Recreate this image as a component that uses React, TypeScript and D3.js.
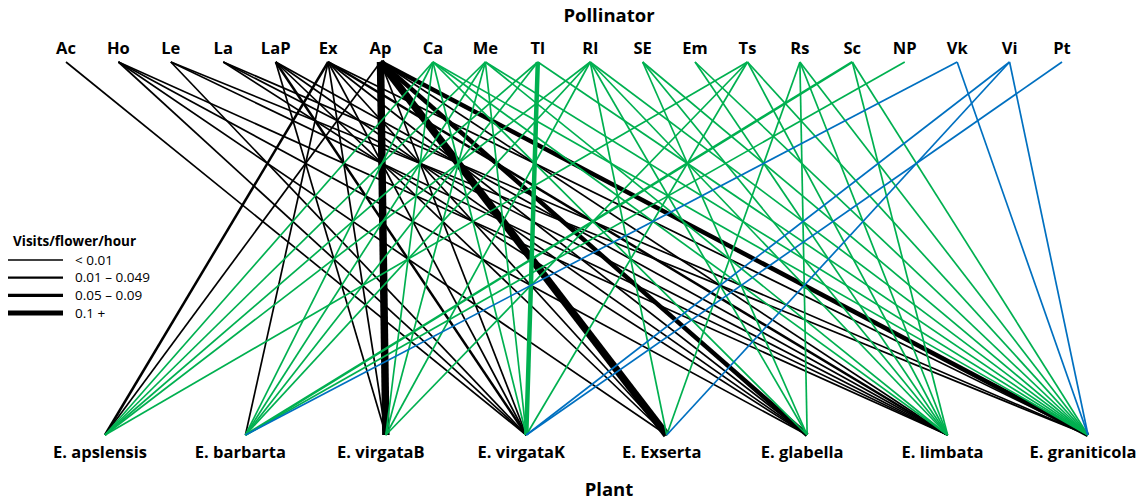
import React from "react";
import * as d3 from "d3";

const pollinators = ["Ac","Ho","Le","La","LaP","Ex","Ap","Ca","Me","Tl","Rl","SE","Em","Ts","Rs","Sc","NP","Vk","Vi","Pt"];
const pollinatorGroup = ["bee","bee","bee","bee","bee","bee","bee","fly","fly","fly","fly","fly","fly","fly","fly","fly","fly","other","other","other"];
const plants = ["E. apslensis","E. barbarta","E. virgataB","E. virgataK","E. Exserta","E. glabella","E. limbata","E. graniticola"];
const legendLabels = ["< 0.01","0.01 \u2013 0.049","0.05 \u2013 0.09","0.1 +"];

// [pollinator, plant, visit class (1..4)]
const links: [string, string, number][] = [
  ["Ac","E. virgataK",1],
  ["Ho","E. virgataK",1],["Ho","E. Exserta",1],["Ho","E. glabella",1],["Ho","E. limbata",1],
  ["Le","E. virgataK",1],["Le","E. limbata",1],["Le","E. graniticola",1],
  ["La","E. glabella",1],["La","E. limbata",1],["La","E. graniticola",1],
  ["LaP","E. virgataB",1],["LaP","E. virgataK",2],["LaP","E. Exserta",1],["LaP","E. glabella",1],["LaP","E. limbata",1],
  ["Ex","E. apslensis",2],["Ex","E. barbarta",1],["Ex","E. virgataB",1],["Ex","E. virgataK",1],["Ex","E. Exserta",1],["Ex","E. glabella",1],["Ex","E. limbata",2],["Ex","E. graniticola",1],
  ["Ap","E. apslensis",1],["Ap","E. virgataB",4],["Ap","E. virgataK",1],["Ap","E. Exserta",4],["Ap","E. glabella",3],["Ap","E. limbata",1],["Ap","E. graniticola",3],
  ["Ca","E. apslensis",1],["Ca","E. barbarta",1],["Ca","E. virgataB",1],["Ca","E. virgataK",1],["Ca","E. glabella",1],["Ca","E. limbata",1],["Ca","E. graniticola",1],
  ["Me","E. apslensis",1],["Me","E. barbarta",1],["Me","E. virgataB",1],["Me","E. virgataK",1],["Me","E. limbata",1],["Me","E. graniticola",1],
  ["Tl","E. apslensis",1],["Tl","E. barbarta",1],["Tl","E. virgataK",3],["Tl","E. graniticola",1],
  ["Rl","E. apslensis",1],["Rl","E. barbarta",1],["Rl","E. virgataB",1],["Rl","E. Exserta",1],["Rl","E. glabella",1],["Rl","E. limbata",1],["Rl","E. graniticola",1],
  ["SE","E. glabella",1],["SE","E. limbata",1],["SE","E. graniticola",1],
  ["Em","E. limbata",1],["Em","E. graniticola",1],
  ["Ts","E. apslensis",1],["Ts","E. virgataB",1],["Ts","E. virgataK",1],["Ts","E. limbata",1],["Ts","E. graniticola",1],
  ["Rs","E. Exserta",1],["Rs","E. glabella",1],["Rs","E. limbata",1],["Rs","E. graniticola",1],
  ["Sc","E. barbarta",2],["Sc","E. limbata",1],["Sc","E. graniticola",1],
  ["NP","E. barbarta",1],
  ["Vk","E. barbarta",1],["Vk","E. graniticola",1],
  ["Vi","E. virgataK",1],["Vi","E. Exserta",1],["Vi","E. graniticola",1],
  ["Pt","E. virgataK",1],
];

const groupColors = { bee: "#000000", fly: "#00b050", other: "#0070c0" } as Record<string, string>;
const linkWidths = [1.7, 2.5, 4.5, 7.5];
const legendWidths = [1.3, 2.2, 3.2, 4.8];

const W = 1145, H = 501;
const FONT = "'Open Sans', 'Noto Sans', sans-serif";

export default function App() {
  const xTop = d3.scalePoint<string>().domain(pollinators).range([66, 1062]);
  const xBot = d3.scalePoint<string>().domain(plants).range([105, 1088]);
  const yTop = 62, yBot = 435;
  const groupOf = new Map(pollinators.map((p, i) => [p, pollinatorGroup[i]]));
  const yLeg = d3.scaleLinear().domain([0, 3]).range([260, 313]);

  return (
    <svg width={W} height={H} style={{ position: "absolute", left: 0, top: 0, background: "#fff" }} fontFamily={FONT}>
      <text x={609} y={22} textAnchor="middle" fontWeight="bold" fontSize={18.5}>Pollinator</text>
      <text x={609} y={496} textAnchor="middle" fontWeight="bold" fontSize={18.5}>Plant</text>
      <g>
        {links.map(([p, t, v], i) => (
          <line key={i} x1={xTop(p)} y1={yTop} x2={xBot(t)} y2={yBot}
            stroke={groupColors[groupOf.get(p) as string]} strokeWidth={linkWidths[v - 1]} />
        ))}
      </g>
      <g>
        {pollinators.map((p) => (
          <text key={p} x={xTop(p)} y={54} textAnchor="middle" fontWeight="bold" fontSize={16.5}>{p}</text>
        ))}
      </g>
      <g>
        {plants.map((p) => (
          <text key={p} x={(xBot(p) as number) - 5} y={458} textAnchor="middle" fontWeight="bold" fontSize={16.5}>{p}</text>
        ))}
      </g>
      <g>
        <text x={13} y={246} fontWeight="bold" fontSize={13.5}>Visits/flower/hour</text>
        {legendLabels.map((l, i) => (
          <g key={l}>
            <line x1={8} x2={63} y1={yLeg(i)} y2={yLeg(i)} stroke="#000" strokeWidth={legendWidths[i]} />
            <text x={75} y={yLeg(i) + 4.5} fontSize={13.5}>{l}</text>
          </g>
        ))}
      </g>
    </svg>
  );
}
